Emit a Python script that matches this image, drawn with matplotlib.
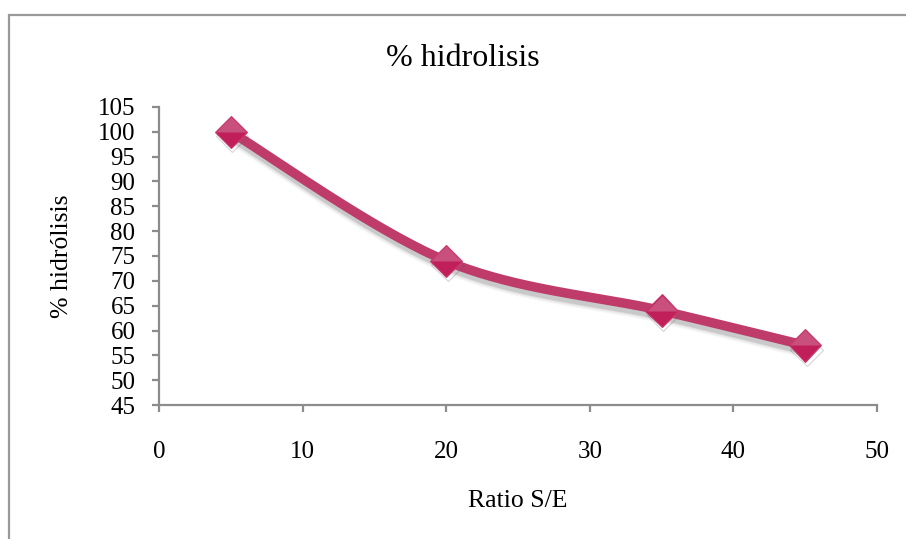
import numpy as np
import matplotlib
matplotlib.use("Agg")
import matplotlib.pyplot as plt
import matplotlib.patheffects as pe
from matplotlib.patches import Rectangle
from matplotlib.path import Path

# ratio substrate/enzyme vs. degree of hydrolysis
ratio_se = [5, 20, 35, 45]
hidrolisis = [100, 74, 64, 57]

x_ticks = [0, 10, 20, 30, 40, 50]
y_ticks = list(range(45, 106, 5))

line_color = "#BE3B6A"
axis_color = "#8C8C8C"

plt.rcParams["font.family"] = ["Liberation Serif", "DejaVu Serif"]


def smooth_curve(xs, ys, sx, sy, n=60):
    # Catmull-Rom style bezier through the points, built in scaled coordinates
    px = np.asarray(xs, float) * sx
    py = np.asarray(ys, float) * sy
    pts = np.column_stack([px, py])
    ext = np.vstack([pts[0], pts, pts[-1]])
    out = []
    for i in range(len(pts) - 1):
        p0, p1, p2, p3 = ext[i], ext[i + 1], ext[i + 2], ext[i + 3]
        c1 = p1 + (p2 - p0) / 6.0
        c2 = p2 - (p3 - p1) / 6.0
        t = np.linspace(0, 1, n)[:, None]
        seg = ((1 - t) ** 3) * p1 + 3 * ((1 - t) ** 2) * t * c1 \
            + 3 * (1 - t) * t ** 2 * c2 + t ** 3 * p2
        out.append(seg if i == 0 else seg[1:])
    out = np.vstack(out)
    return out[:, 0] / sx, out[:, 1] / sy


def soft_shadow():
    # a few stacked translucent offsets to fake a blurred drop shadow
    effects = []
    for lw_add, a in [(5, 0.05), (3, 0.07), (1, 0.10), (0, 0.12)]:
        effects.append(pe.SimpleLineShadow(offset=(1, -3.5), shadow_color="#555555",
                                           alpha=a, linewidth=6.8 + lw_add))
    effects.append(pe.Normal())
    return effects


fig = plt.figure(figsize=(9.06, 5.39), dpi=100)
ax = fig.add_axes([0.1755, 0.2486, 0.7925, 0.5529])

# pixel-ish scaling so the smoothing follows the on-screen shape
sx = 718 / 50.0
sy = 297 / 60.0
cx, cy = smooth_curve(ratio_se, hidrolisis, sx, sy)

ax.plot(cx, cy, color=line_color, lw=6.8, solid_capstyle="butt",
        path_effects=soft_shadow(), zorder=3)

marker_shadow = [pe.SimpleLineShadow(offset=(1, -3), shadow_color="#555555", alpha=0.25),
                 pe.Normal()]
ax.plot(ratio_se, hidrolisis, linestyle="none", marker="D", markersize=16.5,
        markerfacecolor="#C01F5A", markeredgecolor="#C83A6E", markeredgewidth=0.8,
        path_effects=marker_shadow, zorder=4)

# lighter upper half of each diamond
top_half = Path([(-1, 0), (0, 1), (1, 0), (-1, 0)],
                [Path.MOVETO, Path.LINETO, Path.LINETO, Path.CLOSEPOLY])
ax.plot(ratio_se, hidrolisis, linestyle="none", marker=top_half, markersize=22,
        markerfacecolor="#C9507D", markeredgewidth=0, zorder=5)

ax.set_xlim(0, 50)
ax.set_ylim(45, 105)
ax.set_xticks(x_ticks)
ax.set_yticks(y_ticks)

for side in ("top", "right"):
    ax.spines[side].set_visible(False)
for side in ("left", "bottom"):
    ax.spines[side].set_color(axis_color)
    ax.spines[side].set_linewidth(1.6)

ax.tick_params(axis="both", direction="out", length=5, width=1.6,
               color=axis_color, labelsize=18, labelcolor="black")
ax.tick_params(axis="y", pad=12)
ax.tick_params(axis="x", pad=21)

fig.text(463 / 906, 1 - 58 / 539, "% hidrolisis", fontsize=23,
         ha="center", va="center")
ax.set_xlabel("Ratio S/E", fontsize=18.5, labelpad=19)
ax.set_ylabel("% hidrólisis", fontsize=18.5, labelpad=18)

# chart frame
fig.add_artist(Rectangle((9 / 906, -0.2), 1.2, 1 - 15 / 539 + 0.2,
                         transform=fig.transFigure, fill=False,
                         edgecolor="#999999", linewidth=1.6, clip_on=False))

fig.savefig("out.png", dpi=100, facecolor="white")
